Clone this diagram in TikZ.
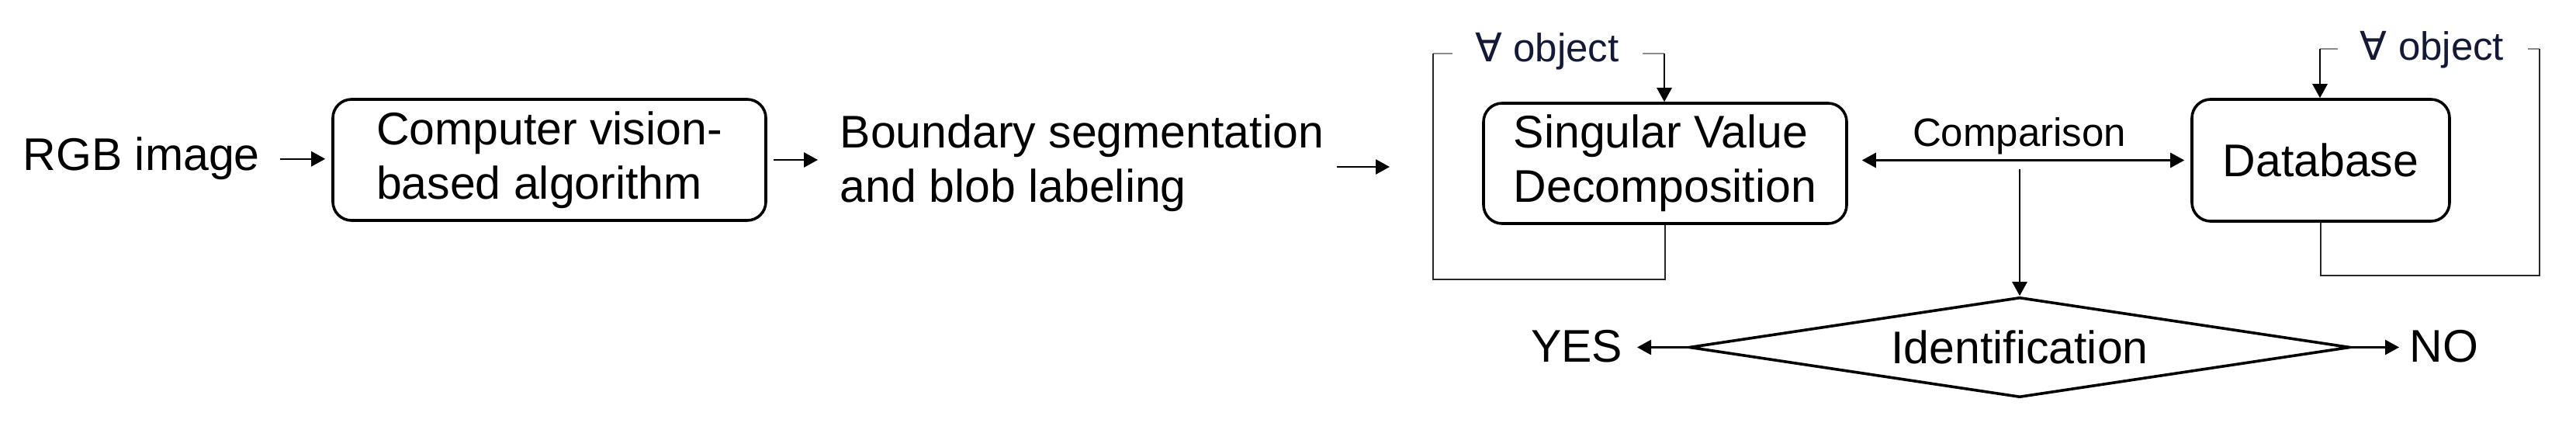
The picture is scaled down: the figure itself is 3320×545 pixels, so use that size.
\documentclass[tikz,border=0pt]{standalone}
\usepackage{fontspec}
\setmainfont{Liberation Sans}
\newfontfamily\symfont{DejaVu Sans}
\usetikzlibrary{arrows.meta,shapes.geometric}
\definecolor{navy}{HTML}{141A35}
\begin{document}
\begin{tikzpicture}[x=0.25pt,y=-0.25pt,
  every node/.style={inner sep=0pt},
  mainfont/.style={font=\fontsize{14.75}{17.5}\selectfont},
  smallfont/.style={font=\fontsize{12.75}{15}\selectfont},
  box/.style={draw, line width=0.9pt, rounded corners=6pt, align=left, mainfont},
  plain/.style={mainfont, align=left},
  arr/.style={line width=0.55pt, -{Triangle[length=4.5pt,width=4.8pt]}},
  biarr/.style={line width=0.55pt, {Triangle[length=4.5pt,width=4.8pt]}-{Triangle[length=4.5pt,width=4.8pt]}},
  loopline/.style={line width=0.5pt, black!85},
  loopgray/.style={line width=0.6pt, black!45},
  dia/.style={draw, diamond, line width=0.9pt, mainfont, minimum width=213pt, minimum height=32.25pt, aspect=6.6},
  looplabel/.style={smallfont, text=navy}
]
\useasboundingbox (0,0) rectangle (3320,545);

% nodes
\node[plain, anchor=base west] (rgb) at (29,220) {RGB image};
\node[box, minimum width=139.5pt, minimum height=39pt] (cv) at (708,206) {Computer vision-\\based algorithm};
\node[plain, anchor=west] (seg) at (1082,210) {Boundary segmentation\\and blob labeling};
\coordinate (svdin) at (1791,215);
\node[box, minimum width=117pt, minimum height=38.75pt] (svd) at (2146,210.5) {Singular Value\\Decomposition};
\node[box, align=center, minimum width=83pt, minimum height=39.25pt] (db) at (2991,206.5) {Database};
\node[dia] (idn) at (2603,447.5) {Identification};
\node[plain, anchor=east] (yes) at (2092,446) {YES};
\node[plain, anchor=west] (no) at (3105,446) {NO};

% main flow
\draw[arr, shorten <=6.25pt, shorten >=2pt] (rgb.east) -- (rgb.east -| cv.west);
\draw[arr, shorten <=2pt, shorten >=7pt] (cv.east) -- (cv.east -| seg.west);
\draw[arr, shorten <=4pt] (seg.east |- svdin) -- (svdin);
\draw[biarr, shorten <=4.5pt, shorten >=2pt] (svd.east |- db.west) -- (db.west)
  node[midway, above, smallfont, inner ysep=1.5pt] (cmp) {Comparison};
\coordinate (cmpbr) at (2603,218);
\draw[arr] (cmpbr) -- (idn.north);
\draw[arr, shorten >=4.5pt] (idn.west) -- (idn.west -| yes.east);
\draw[arr, shorten >=3.25pt] (idn.east) -- (idn.east -| no.west);

% SVD loop
\coordinate (sTL) at (1847,69);
\coordinate (sBL) at (1847,360);
\coordinate (sG1) at (1872,69);
\coordinate (sG2) at (2117,69);
\coordinate (sTR) at (2145,69);
\node[looplabel, anchor=base] (lbl1) at (1994,80) {{\symfont ∀} object};
\draw[loopgray] (sTL) -- (sG1);
\draw[loopgray] (sG2) -- (sTR);
\draw[loopline] (svd.south) |- (sBL) -- (sTL);
\draw[arr] (sTR) -- (sTR |- svd.north);

% Database loop
\coordinate (dTL) at (2990,63);
\coordinate (dG1) at (3013,63);
\coordinate (dG2) at (3258,63);
\coordinate (dTR) at (3273,63);
\coordinate (dBR) at (3273,355);
\node[looplabel, anchor=base] (lbl2) at (3134.5,78) {{\symfont ∀} object};
\draw[loopgray] (dTL) -- (dG1);
\draw[loopgray] (dG2) -- (dTR);
\draw[loopline] (db.south) |- (dBR) -- (dTR);
\draw[arr] (dTL) -- (dTL |- db.north);
\end{tikzpicture}
\end{document}
